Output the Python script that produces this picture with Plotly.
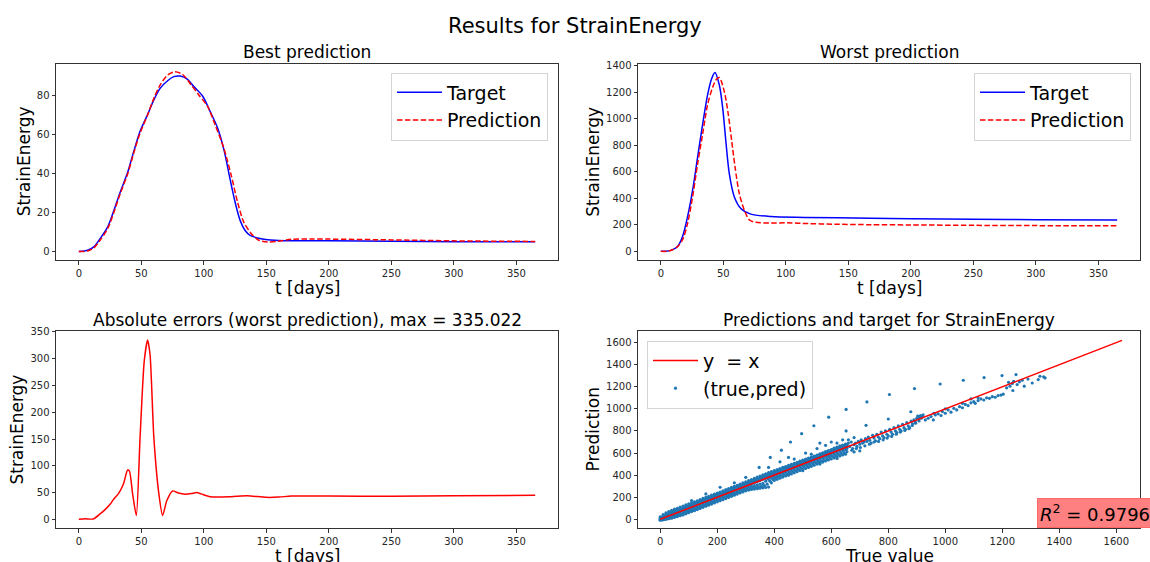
import plotly.graph_objects as go

# ---------------- data ----------------
best_t_target = [0, 7, 12, 17, 23, 28, 33, 39, 44, 49, 55, 60, 65, 71, 76, 81, 87, 92, 99, 105, 111, 116,
                 121, 125, 129, 133, 137, 143, 151, 164, 178, 200, 250, 300, 365]
best_target = [0, 0.7, 2.4, 6.6, 12.5, 21, 30.3, 40.5, 51.5, 61.7, 70.2, 77.8, 83.7, 87.6, 89.7, 90, 88.3,
               84.6, 79.8, 71.9, 63.4, 52.4, 37, 25.3, 16, 10.8, 8.3, 7, 6.1, 5.6, 5.6, 5.5, 5.3, 5.1, 5.0]

best_t_pred = [0, 7, 12, 17, 23, 28, 33, 39, 44, 49, 55, 60, 65, 71, 77, 83, 90, 96, 103, 109, 116, 122,
               127, 132, 138, 144, 151, 159, 170, 185, 200, 250, 300, 365]
best_pred = [0, 0.3, 1.9, 5.8, 11.7, 20, 29.5, 39.7, 50.7, 60.8, 70, 78.6, 85.4, 90.5, 92.2, 90.8, 85.4,
             80.3, 74.4, 65, 53, 38.8, 25.3, 15, 9.2, 5.8, 4.9, 5.3, 6.3, 6.5, 6.4, 6.0, 5.5, 5.2]

worst_t_target = [0, 4, 8, 13.4, 17.4, 21.4, 25.4, 29.4, 33.4, 37.4, 40.5, 43.3, 46.8, 49.5, 52, 54.8,
                  58.8, 64, 72, 88, 115, 168, 200, 250, 300, 365]
worst_target = [0, 0, 7, 37, 112, 261, 460, 709, 957, 1181, 1300, 1350, 1256, 1082, 833, 584, 410, 323,
                281, 262, 256, 250, 246, 242, 239, 237]

worst_t_pred = [0, 5, 9, 13.4, 17.4, 21.4, 25.4, 29.4, 33.4, 37.4, 41.5, 44.5, 46.8, 50.8, 54, 56.7, 59.4,
                62.8, 66.8, 70.9, 76, 88, 101, 112, 142, 168, 200, 250, 300, 365]
worst_pred = [0, 0, 10, 35, 87, 211, 410, 659, 883, 1107, 1240, 1300, 1313, 1206, 1032, 833, 634, 435,
              311, 236, 219, 213, 216, 211, 204, 201, 199, 196, 194, 192]

err_t = [0, 5, 11.7, 17, 21, 25, 28, 31.7, 35.7, 39, 40.5, 43, 46, 49, 52.3, 55, 57, 60, 64, 67, 70.4,
         75, 79.7, 85, 90, 94.4, 99.7, 105, 120, 126, 135, 150, 160, 170, 200, 250, 300, 365]
err_vals = [0, 1, 0.6, 10, 18, 28, 38, 48, 66, 92, 90, 48, 7, 153, 295, 335, 307, 153, 48, 7, 35,
            53, 49, 47, 48, 50, 46, 42, 42, 43, 44, 41, 41.5, 43.5, 43.5, 43, 44, 45]

err_max_label = "335.022"
r2_label = "0.9796"

band_true = [0, 10, 20, 30, 40, 50, 60, 70, 80, 90, 100, 110, 120, 130, 140, 150, 160, 170, 180, 190,
             200, 210, 220, 230, 240, 250, 260, 270, 280, 290, 300, 310, 320, 330, 340, 350, 360, 370,
             380, 390, 400, 410, 420, 430, 440, 450, 460, 470, 480, 490, 500, 510, 520, 530, 540, 550,
             560, 570, 580, 590, 600, 610, 620, 630, 640, 650]
band_true_b = [5, 15, 25, 35, 45, 55, 65, 75, 85, 95, 105, 115, 125, 135, 145, 155, 165, 175, 185, 195,
               205, 215, 225, 235, 245, 255, 265, 275, 285, 295, 305, 315, 325, 335, 345, 355, 365, 375,
               385, 395, 405, 415, 425, 435, 445, 455, 465, 475, 485, 495, 505, 515, 525, 535, 545, 555,
               565, 575, 585, 595, 605, 615, 625, 635, 645, 655]
band_pred_hi = [22, 42, 58, 70, 82, 92, 100, 110, 120, 131, 140, 150, 158, 168, 178, 189, 198, 208, 219,
                228, 238, 247, 258, 268, 278, 289, 298, 308, 318, 329, 338, 350, 360, 370, 381, 392, 402,
                412, 422, 432, 441, 450, 460, 470, 478, 488, 497, 506, 516, 526, 535, 545, 554, 563, 573,
                582, 592, 602, 612, 622, 632, 645, 654, 664, 672, 680]
band_pred_uh = [10, 28, 40, 50, 60, 70, 80, 89, 99, 108, 118, 128, 138, 148, 158, 168, 178, 188, 198,
                208, 218, 228, 238, 248, 258, 268, 278, 288, 298, 308, 318, 328, 338, 348, 358, 368, 378,
                388, 398, 408, 418, 428, 438, 448, 458, 468, 478, 488, 498, 508, 518, 528, 538, 548, 558,
                568, 578, 588, 598, 608, 618, 628, 638, 648, 656, 664]
band_pred_mid = [2, 14, 24, 33, 42, 52, 62, 72, 82, 92, 102, 112, 122, 132, 142, 152, 162, 172, 182, 192,
                 202, 212, 222, 232, 242, 252, 262, 272, 282, 292, 302, 312, 322, 332, 342, 352, 362, 372,
                 382, 392, 402, 412, 422, 432, 442, 452, 462, 472, 482, 492, 502, 512, 522, 532, 542, 552,
                 562, 572, 582, 592, 602, 612, 622, 632, 641, 650]
band_pred_ul = [-4, 2, 8, 16, 25, 34, 43, 53, 62, 72, 82, 92, 102, 112, 122, 132, 142, 152, 162, 172, 182,
                192, 202, 212, 222, 232, 242, 252, 262, 271, 281, 290, 298, 305, 312, 318, 325, 345, 362,
                374, 384, 394, 404, 414, 424, 434, 444, 454, 464, 474, 484, 494, 504, 514, 524, 534, 544,
                554, 564, 574, 584, 594, 604, 614, 622, 630]
band_pred_lo = [-8, -5, 0, 5, 10, 18, 25, 32, 40, 50, 60, 70, 78, 88, 98, 108, 118, 128, 138, 148, 158,
                168, 178, 188, 198, 208, 218, 228, 238, 248, 258, 265, 270, 274, 277, 281, 285, 288, 292,
                330, 352, 362, 372, 382, 392, 402, 411, 421, 431, 441, 450, 460, 470, 480, 490, 500, 508,
                518, 528, 538, 546, 556, 565, 574, 582, 590]
band_pred_b1 = [18, 36, 50, 60, 72, 82, 92, 100, 110, 120, 130, 140, 150, 160, 170, 180, 190, 200, 210,
                220, 230, 240, 250, 260, 270, 280, 290, 300, 310, 320, 330, 341, 352, 362, 372, 383, 394,
                404, 414, 424, 434, 444, 454, 462, 472, 482, 491, 500, 510, 520, 530, 540, 550, 560, 570,
                580, 590, 600, 610, 620, 630, 640, 650, 660, 668, 676]
band_pred_b2 = [6, 18, 30, 40, 50, 60, 70, 80, 90, 100, 110, 120, 130, 140, 150, 160, 170, 180, 190, 200,
                210, 220, 230, 240, 250, 260, 270, 280, 290, 300, 310, 320, 330, 340, 350, 360, 370, 380,
                390, 400, 410, 420, 430, 440, 450, 460, 470, 480, 490, 500, 510, 520, 530, 540, 550, 560,
                570, 580, 590, 600, 610, 620, 630, 640, 648, 656]
band_pred_b3 = [-6, 0, 5, 12, 20, 28, 37, 46, 55, 65, 75, 85, 95, 105, 115, 125, 135, 145, 155, 165, 175,
                185, 195, 205, 215, 225, 235, 245, 255, 262, 270, 278, 284, 289, 293, 298, 305, 318, 345,
                362, 372, 382, 392, 402, 412, 422, 432, 442, 452, 462, 472, 482, 492, 502, 512, 522, 530,
                540, 550, 560, 570, 578, 588, 596, 604, 612]

sparse_true = [347, 386, 425, 457, 496, 539, 591, 652, 725, 804, 892, 982, 1063, 1136, 1199, 1248,
               420, 450, 470, 510, 530, 550, 580, 600, 620, 640, 652, 722, 800, 879, 380, 300, 260, 210,
               160, 110, 560, 660, 680, 620, 560, 500, 450, 700, 680,
               655, 660, 665, 670, 675, 680, 685, 690, 695, 700, 705, 710, 715, 720, 725, 730, 735, 740,
               745, 750, 755, 760, 765, 770, 775, 780, 785, 790, 795, 800, 805, 810, 815, 820, 825, 830,
               835, 840, 845, 850, 855, 860, 865, 870, 875, 880, 885, 890, 895, 900, 903, 906, 910, 913,
               916, 919, 922, 908, 896, 884, 872, 858, 842, 828, 812, 796, 782, 766, 750, 734, 718, 702,
               688, 672,
               930, 940, 950, 958, 965, 975, 985, 990, 1000, 1010, 1020, 1030, 1040, 1050, 1060, 1070,
               1080, 1090, 1100, 1105, 1115, 1125, 1135, 1145, 1155, 1165, 1175, 1185, 1195, 1203, 1060,
               1090, 1115, 1000, 960,
               1227, 1235, 1240, 1252, 1237, 1277, 1305, 1326, 1332, 1215, 1260, 1290, 1345, 1350, 1270,
               1222]
sparse_pred = [470, 560, 626, 700, 775, 847, 925, 995, 1063, 1130, 1184, 1225, 1259, 1283, 1301, 1310,
               520, 560, 545, 600, 590, 640, 670, 700, 690, 720, 800, 851, 908, 974, 470, 380, 330, 290,
               230, 170, 690, 720, 740, 551, 500, 440, 400, 620, 610,
               640, 690, 660, 700, 640, 675, 690, 660, 705, 680, 720, 690, 700, 730, 705, 745, 715, 690,
               760, 735, 710, 770, 745, 730, 790, 755, 740, 800, 770, 755, 815, 790, 770, 830, 800, 785,
               845, 815, 800, 860, 830, 815, 875, 845, 830, 890, 865, 900, 880, 915, 935, 905, 925, 940,
               915, 930, 945, 890, 870, 850, 820, 805, 790, 770, 750, 735, 720, 705, 700, 680, 665, 650,
               640, 625,
               900, 915, 930, 900, 945, 955, 940, 975, 960, 990, 970, 1005, 990, 1020, 1010, 1040,
               1030, 1055, 1065, 1050, 1075, 1090, 1080, 1100, 1095, 1110, 1105, 1120, 1125, 1133, 1050,
               1090, 1100, 1000, 960,
               1205, 1230, 1250, 1220, 1166, 1205, 1234, 1265, 1295, 1190, 1245, 1270, 1290, 1280, 1260,
               1240]

identity_line = [0, 1620]

# ---------------- figure ----------------
W, H = 1150, 562
FONT = "DejaVu Sans"
BLUE = "#0000ff"
RED = "#ff0000"


def px(xp):
    return xp / W


def py(yp):
    return 1 - yp / H


scatter_x = band_true * 5 + band_true_b * 3 + sparse_true
scatter_y = (band_pred_hi + band_pred_uh + band_pred_mid + band_pred_ul + band_pred_lo
             + band_pred_b1 + band_pred_b2 + band_pred_b3 + sparse_pred)

fig = go.Figure()

# Best prediction
fig.add_trace(go.Scatter(x=best_t_target, y=best_target, mode="lines", name="Target",
                         line=dict(color=BLUE, width=1.5, shape="spline", smoothing=0.8),
                         xaxis="x", yaxis="y", legend="legend"))
fig.add_trace(go.Scatter(x=best_t_pred, y=best_pred, mode="lines", name="Prediction",
                         line=dict(color=RED, width=1.5, dash="5.5px,2.4px", shape="spline", smoothing=0.8),
                         xaxis="x", yaxis="y", legend="legend"))
# Worst prediction
fig.add_trace(go.Scatter(x=worst_t_target, y=worst_target, mode="lines", name="Target",
                         line=dict(color=BLUE, width=1.5, shape="spline", smoothing=0.8),
                         xaxis="x2", yaxis="y2", legend="legend2"))
fig.add_trace(go.Scatter(x=worst_t_pred, y=worst_pred, mode="lines", name="Prediction",
                         line=dict(color=RED, width=1.5, dash="5.5px,2.4px", shape="spline", smoothing=0.8),
                         xaxis="x2", yaxis="y2", legend="legend2"))
# Errors
fig.add_trace(go.Scatter(x=err_t, y=err_vals, mode="lines", showlegend=False,
                         line=dict(color=RED, width=1.5, shape="spline", smoothing=0.6),
                         xaxis="x3", yaxis="y3"))
# Scatter
fig.add_trace(go.Scatter(x=scatter_x, y=scatter_y, mode="markers", name="(true,pred)",
                         marker=dict(color="#1f77b4", size=3.2, line=dict(width=0)),
                         xaxis="x4", yaxis="y4", legend="legend3", legendrank=2))
fig.add_trace(go.Scatter(x=identity_line, y=identity_line, mode="lines", name="y\u00a0 = x",
                         line=dict(color=RED, width=1.5),
                         xaxis="x4", yaxis="y4", legend="legend3", legendrank=1))

dom_xl = [px(56), px(558)]
dom_xr = [px(638), px(1140)]
dom_yt = [py(258), py(60)]
dom_yb = [py(528), py(329)]

axis_common = dict(showgrid=False, zeroline=False, showline=True, mirror=True, linecolor="#333333",
                   linewidth=1, ticks="outside", ticklen=3.5, tickwidth=0.8, tickcolor="#333333",
                   tickfont=dict(family=FONT, size=10, color="#262626"))

t_ticks = [0, 50, 100, 150, 200, 250, 300, 350]

legend_common = dict(bgcolor="white", bordercolor="#d4d4d4", borderwidth=1,
                     font=dict(family=FONT, size=19), itemwidth=45)

fig.update_layout(
    width=W, height=H, margin=dict(l=0, r=0, t=0, b=0),
    paper_bgcolor="white", plot_bgcolor="white",
    font=dict(family=FONT, color="black"),
    xaxis=dict(domain=dom_xl, anchor="y", range=[-18.25, 383.25], tickvals=t_ticks, **axis_common),
    yaxis=dict(domain=dom_yt, anchor="x", range=[-4.4, 96.4], tickvals=[0, 20, 40, 60, 80], **axis_common),
    xaxis2=dict(domain=dom_xr, anchor="y2", range=[-18.25, 383.25], tickvals=t_ticks, **axis_common),
    yaxis2=dict(domain=dom_yt, anchor="x2", range=[-67, 1418],
                tickvals=[0, 200, 400, 600, 800, 1000, 1200, 1400], **axis_common),
    xaxis3=dict(domain=dom_xl, anchor="y3", range=[-18.25, 383.25], tickvals=t_ticks, **axis_common),
    yaxis3=dict(domain=dom_yb, anchor="x3", range=[-16.7, 352.4],
                tickvals=[0, 50, 100, 150, 200, 250, 300, 350], **axis_common),
    xaxis4=dict(domain=dom_xr, anchor="y4", range=[-78, 1683],
                tickvals=[0, 200, 400, 600, 800, 1000, 1200, 1400, 1600], **axis_common),
    yaxis4=dict(domain=dom_yb, anchor="x4", range=[-81, 1708],
                tickvals=[0, 200, 400, 600, 800, 1000, 1200, 1400, 1600], **axis_common),
    legend=dict(x=px(548), xanchor="right", y=py(69), yanchor="top", **legend_common),
    legend2=dict(x=px(1131), xanchor="right", y=py(69), yanchor="top", **legend_common),
    legend3=dict(x=px(647), xanchor="left", y=py(339), yanchor="top", **legend_common),
)

ann = []


def text(x, y, s, size, angle=0, xanchor="center", yanchor="middle", **kw):
    ann.append(dict(x=px(x), y=py(y), xref="paper", yref="paper", text=s, showarrow=False,
                    font=dict(family=FONT, size=size, color="black"), textangle=angle,
                    xanchor=xanchor, yanchor=yanchor, **kw))


text(575, 22, "Results for StrainEnergy", 21)
text(307, 48, "Best prediction", 17)
text(889, 48, "Worst prediction", 17)
text(307, 318, "Absolute errors (worst prediction), max = " + err_max_label, 17)
text(889, 318, "Predictions and target for StrainEnergy", 17)
text(307, 286, "t [days]", 17)
text(889, 286, "t [days]", 17)
text(307, 556, "t [days]", 17)
text(889, 556, "True value", 17)
text(23.5, 159, "StrainEnergy", 17, angle=-90)
text(593, 159, "StrainEnergy", 17, angle=-90)
text(17, 428.5, "StrainEnergy", 17, angle=-90)
text(593, 428.5, "Prediction", 17, angle=-90)
ann.append(dict(x=px(1037), y=py(513), xref="paper", yref="paper",
                text="<i>R</i><sup>2</sup> = " + r2_label, showarrow=False,
                font=dict(family=FONT, size=18, color="black"), xanchor="left", yanchor="middle",
                bgcolor="#ff8080", bordercolor="#ff6666", borderwidth=1, borderpad=2))
fig.update_layout(annotations=ann)

fig.write_html("out.html", config={"displayModeBar": False},
               post_script="document.body.style.margin='0px';document.body.style.overflow='hidden';")
